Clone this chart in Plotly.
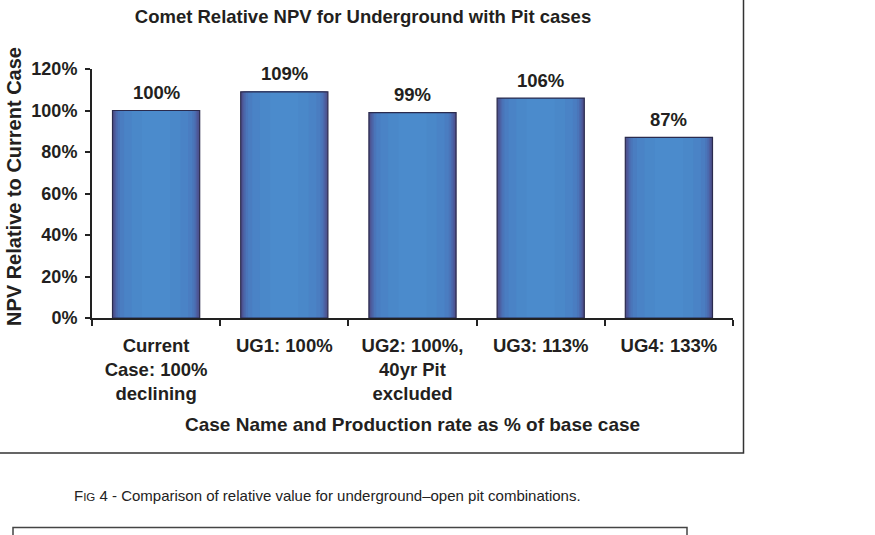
import plotly.graph_objects as go

# ---- data ----
categories = ["Current Case: 100% declining", "UG1: 100%", "UG2: 100%, 40yr Pit excluded", "UG3: 113%", "UG4: 133%"]
tick_labels = ["Current<br>Case: 100%<br>declining", "UG1: 100%", "UG2: 100%,<br>40yr Pit<br>excluded", "UG3: 113%", "UG4: 133%"]
npv_relative = [1.00, 1.09, 0.99, 1.06, 0.87]
y_ticks = [0, 0.2, 0.4, 0.6, 0.8, 1.0, 1.2]

title_text = "Comet Relative NPV for Underground with Pit cases"
x_title = "Case Name and Production rate as % of base case"
y_title = "NPV Relative to Current Case"
caption = "F<span style='font-size:11.5px'>IG</span> 4 - Comparison of relative value for underground\u2013open pit combinations."

# ---- style ----
FONT = "Liberation Sans, Arial, sans-serif"
TXT = "#231f20"
# pseudo-gradient layers (width, colour), outer -> inner
layers = [
    (0.68, "#4d4c86"),
    (0.665, "#4d5593"),
    (0.645, "#4c5fa0"),
    (0.625, "#4b6aae"),
    (0.60, "#4a75b9"),
    (0.565, "#4a7dc1"),
    (0.50, "#4a83c6"),
    (0.38, "#4a88c9"),
    (0.22, "#4b8bcc"),
]

# plot area in pixels: x 92..733, y 69..318
L, R, T, B = 92, 875 - 733, 69, 535 - 318
PW, PH = 733 - 92, 318 - 69


def px_x(p):
    return (p - L) / PW


def px_y(p):
    return (318 - p) / PH


fig = go.Figure()
for w, c in layers:
    fig.add_trace(go.Bar(
        x=categories, y=npv_relative, width=[w] * len(categories),
        marker=dict(color=c, line=dict(width=0)), showlegend=False, hoverinfo="skip"))
# outline
fig.add_trace(go.Bar(
    x=categories, y=npv_relative, width=[0.68] * len(categories),
    marker=dict(color="rgba(0,0,0,0)", line=dict(width=1.2, color="#2a2b4e")),
    showlegend=False, hoverinfo="skip"))

# value labels
for cat, v in zip(categories, npv_relative):
    fig.add_annotation(x=cat, y=v, xref="x", yref="y", text=f"<b>{v:.0%}</b>",
                       showarrow=False, yshift=18, yanchor="middle",
                       font=dict(family=FONT, size=18.5, color=TXT))

# axis titles / caption
fig.add_annotation(x=0.5, y=px_y(424), xref="paper", yref="paper", text=f"<b>{x_title}</b>",
                   showarrow=False, xanchor="center", yanchor="middle",
                   font=dict(family=FONT, size=19, color=TXT))
fig.add_annotation(x=px_x(14), y=px_y(187), xref="paper", yref="paper", text=f"<b>{y_title}</b>",
                   showarrow=False, xanchor="center", yanchor="middle", textangle=-90,
                   font=dict(family=FONT, size=20, color=TXT))
fig.add_annotation(x=px_x(72), y=px_y(495), xref="paper", yref="paper", text=caption,
                   showarrow=False, xanchor="left", yanchor="middle",
                   font=dict(family=FONT, size=15, color="#222222"))

# frame boxes
fig.add_shape(type="rect", xref="paper", yref="paper",
              x0=px_x(-5), x1=px_x(743.5), y0=px_y(453), y1=px_y(-5),
              line=dict(color="#333333", width=1.5), layer="below")
fig.add_shape(type="rect", xref="paper", yref="paper",
              x0=px_x(13), x1=px_x(687), y0=px_y(545), y1=px_y(527.5),
              line=dict(color="#444444", width=1.5), layer="below")

fig.update_layout(
    width=875, height=535,
    margin=dict(l=L, r=R, t=T, b=B, pad=0),
    paper_bgcolor="white", plot_bgcolor="white",
    barmode="overlay",
    title=dict(text=f"<b>{title_text}</b>", x=363 / 875, y=1 - 17 / 535,
               xanchor="center", yanchor="middle",
               font=dict(family=FONT, size=18.5, color=TXT)),
    font=dict(family=FONT, color=TXT),
)
fig.update_xaxes(
    type="category", tickvals=categories, ticktext=[f"<b>{t}</b>" for t in tick_labels],
    tickson="boundaries", ticks="outside", ticklen=6, tickwidth=1.5, tickcolor="#222",
    showline=True, linecolor="#222", linewidth=2, showgrid=False, zeroline=False,
    tickangle=0, tickfont=dict(family=FONT, size=18.5, color=TXT), range=[-0.5, 4.5],
    ticklabelstandoff=10, fixedrange=True,
)
fig.update_yaxes(
    range=[0, 1.2], tickvals=y_ticks, ticktext=[f"<b>{t:.0%}</b>" for t in y_ticks],
    ticks="outside", ticklen=5, tickwidth=1.5, tickcolor="#222",
    showline=True, linecolor="#222", linewidth=2, showgrid=False, zeroline=False,
    tickfont=dict(family=FONT, size=18, color=TXT), ticklabelstandoff=4,
    fixedrange=True,
)

fig.write_html("out.html", config={"displayModeBar": False})
